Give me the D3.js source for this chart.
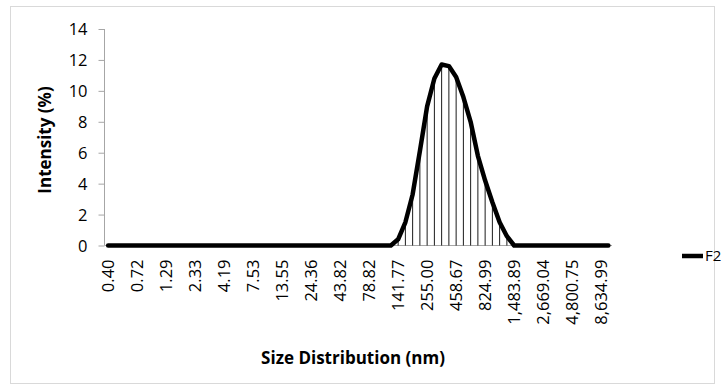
<!DOCTYPE html>
<html lang="en">
<head>
    <meta charset="utf-8">
    <title>Size Distribution</title>
    <script src="https://cdn.jsdelivr.net/npm/d3@7"></script>
    <style>
        body { margin: 0; background: #fff; }
        svg text { font-family: "Open Sans", "Liberation Sans", sans-serif; fill: #000; }
    </style>
</head>
<body>
    <svg id="chart" width="724" height="390"></svg>

    <script>
        // size bins (nm)
        const sizes = [
            0.40, 0.46, 0.54, 0.62, 0.72, 0.83, 0.96, 1.12, 1.29, 1.50,
            1.74, 2.01, 2.33, 2.70, 3.12, 3.62, 4.19, 4.85, 5.62, 6.50,
            7.53, 8.72, 10.10, 11.70, 13.55, 15.69, 18.17, 21.04, 24.36, 28.21,
            32.67, 37.84, 43.82, 50.75, 58.77, 68.06, 78.82, 91.28, 105.70, 122.40,
            141.77, 164.18, 190.14, 220.19, 255.00, 295.30, 341.99, 396.06, 458.67, 531.17,
            615.13, 712.38, 824.99, 955.40, 1106.42, 1281.31, 1483.89, 1718.50, 1990.18, 2304.80,
            2669.04, 3091.06, 3579.79, 4145.75, 4800.75, 5559.64, 6438.52, 7456.42, 8634.99, 10000.00
        ];

        // intensity (%) for series F2
        const f2 = [
            0, 0, 0, 0, 0, 0, 0, 0, 0, 0,
            0, 0, 0, 0, 0, 0, 0, 0, 0, 0,
            0, 0, 0, 0, 0, 0, 0, 0, 0, 0,
            0, 0, 0, 0, 0, 0, 0, 0, 0, 0,
            0.4, 1.5, 3.3, 6.1, 9.0, 10.8, 11.7, 11.6, 10.9, 9.6,
            8.0, 5.8, 4.2, 2.8, 1.5, 0.6, 0, 0, 0, 0,
            0, 0, 0, 0, 0, 0, 0, 0, 0, 0
        ];

        const yTicks = [0, 2, 4, 6, 8, 10, 12, 14];
        const seriesName = "F2";

        const svg = d3.select("#chart");
        const fmt = d3.format(",.2f");

        // chart area border
        svg.append("rect")
            .attr("x", 10.5).attr("y", 6.5)
            .attr("width", 704).attr("height", 377)
            .attr("fill", "#fff")
            .attr("stroke", "#d9d9d9");

        const x = d3.scalePoint()
            .domain(d3.range(sizes.length))
            .range([104.5, 612])
            .padding(0.5);

        const y = d3.scaleLinear()
            .domain([0, 14])
            .range([245.5, 29]);

        // y axis
        const yAxis = svg.append("g")
            .attr("transform", "translate(104.5,0)")
            .call(d3.axisLeft(y).tickValues(yTicks).tickSize(6).tickPadding(11));
        yAxis.selectAll("line, path").attr("stroke", "#a6a6a6");
        yAxis.select(".domain").attr("d", `M0,${y(14)}V${y(0)}`);
        yAxis.selectAll("text").style("font-size", "16.5px").attr("dy", "0.36em");

        // x axis line
        svg.append("line")
            .attr("x1", 104.5).attr("x2", 612)
            .attr("y1", y(0)).attr("y2", y(0))
            .attr("stroke", "#a6a6a6");

        // x labels every 4th bin
        svg.append("g")
            .selectAll("text")
            .data(sizes.map((s, i) => ({ s, i })).filter(d => d.i % 4 === 0))
            .join("text")
            .attr("transform", d => `translate(${x(d.i) + 6},${y(0) + 14}) rotate(-90)`)
            .attr("text-anchor", "end")
            .style("font-size", "16.5px")
            .text(d => fmt(d.s));

        // drop lines
        svg.append("g")
            .selectAll("line")
            .data(f2.map((v, i) => ({ v, i })).filter(d => d.v > 0))
            .join("line")
            .attr("x1", d => x(d.i)).attr("x2", d => x(d.i))
            .attr("y1", d => y(d.v)).attr("y2", y(0))
            .attr("stroke", "#000")
            .attr("stroke-width", 0.9);

        // series line
        const line = d3.line()
            .x((d, i) => x(i))
            .y(d => y(d));

        svg.append("path")
            .datum(f2)
            .attr("d", line)
            .attr("fill", "none")
            .attr("stroke", "#000")
            .attr("stroke-width", 4.5)
            .attr("stroke-linejoin", "round")
            .attr("stroke-linecap", "round");

        // axis titles
        svg.append("text")
            .attr("x", 353).attr("y", 364)
            .attr("text-anchor", "middle")
            .style("font-size", "17px")
            .style("font-weight", "bold")
            .text("Size Distribution (nm)");

        svg.append("text")
            .attr("transform", "translate(51,140) rotate(-90)")
            .attr("text-anchor", "middle")
            .style("font-size", "17px")
            .style("font-weight", "bold")
            .text("Intensity (%)");

        // legend
        svg.append("line")
            .attr("x1", 682).attr("x2", 703)
            .attr("y1", 256).attr("y2", 256)
            .attr("stroke", "#000")
            .attr("stroke-width", 4.5);
        svg.append("text")
            .attr("x", 705).attr("y", 256)
            .attr("dy", "0.36em")
            .style("font-size", "15px")
            .text(seriesName);
    </script>
</body>
</html>
